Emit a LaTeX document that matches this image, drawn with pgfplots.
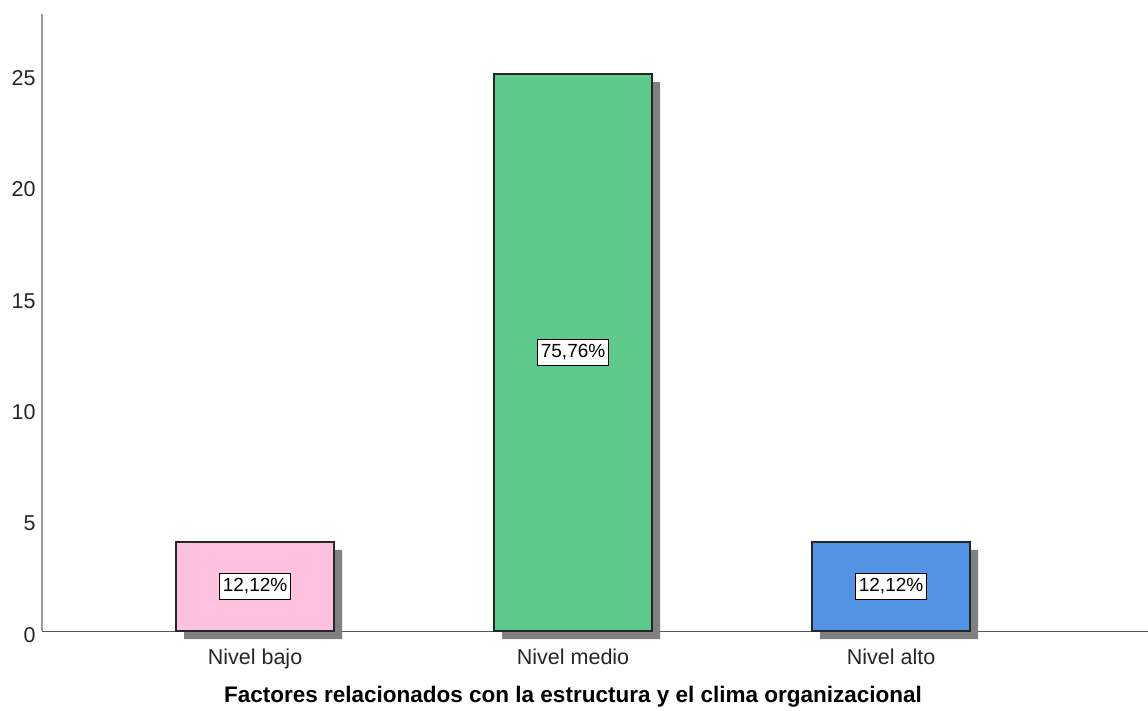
\documentclass[border=0pt]{standalone}
\usepackage{fontspec}
\setmainfont{Liberation Sans}
\usepackage{pgfplots}
\pgfplotsset{compat=1.18}
\definecolor{cpink}{RGB}{254,194,224}
\definecolor{cgreen}{RGB}{94,201,140}
\definecolor{cblue}{RGB}{82,148,227}
\definecolor{cshadow}{RGB}{128,128,128}
\begin{document}
\begin{tikzpicture}
\useasboundingbox (0,0) rectangle (1148bp,711bp);
\begin{axis}[
  at={(42bp,80bp)}, anchor=south west,
  scale only axis, width=1106bp, height=617bp,
  xmin=0.33, xmax=3.808, ymin=0, ymax=27.7,
  axis x line*=bottom, axis y line*=left,
  x axis line style={draw=black!65, line width=1bp, -},
  y axis line style={draw=black!40, line width=1.5bp, -},
  xtick={1,2,3}, xticklabels={Nivel bajo, Nivel medio, Nivel alto},
  ytick={0,5,10,15,20,25},
  major tick length=0pt,
  tick label style={font=\fontsize{21.5bp}{24bp}\selectfont, text=black!85},
  yticklabel style={xshift=-3bp, yshift=-4bp},
  xticklabel style={yshift=-14bp},
  /pgf/number format/assume math mode=true,
  xlabel={\bfseries Factores relacionados con la estructura y el clima organizacional},
  xlabel style={font=\fontsize{22.5bp}{26bp}\selectfont, yshift=-11bp, xshift=-22bp},
  clip=false,
  bar width=0.497,
]
\addplot[ybar, fill=cshadow, draw=none, xshift=8bp, yshift=-8bp, bar shift=0pt] coordinates {(1,4) (2,25) (3,4)};
\addplot[ybar, fill=cpink, draw=black!85, line width=1.3bp, bar shift=0pt] coordinates {(1,4)};
\addplot[ybar, fill=cgreen, draw=black!85, line width=1.3bp, bar shift=0pt] coordinates {(2,25)};
\addplot[ybar, fill=cblue, draw=black!85, line width=1.3bp, bar shift=0pt] coordinates {(3,4)};
\addplot[only marks, mark=none, point meta=explicit symbolic,
  nodes near coords,
  nodes near coords style={anchor=center, draw=black, fill=white, line width=0.8bp,
    inner xsep=3bp, inner ysep=5bp, font=\fontsize{19bp}{22bp}\selectfont}]
  coordinates {(1,2) [12,12\%] (2,12.5) [75,76\%] (3,2) [12,12\%]};
\end{axis}
\end{tikzpicture}
\end{document}
